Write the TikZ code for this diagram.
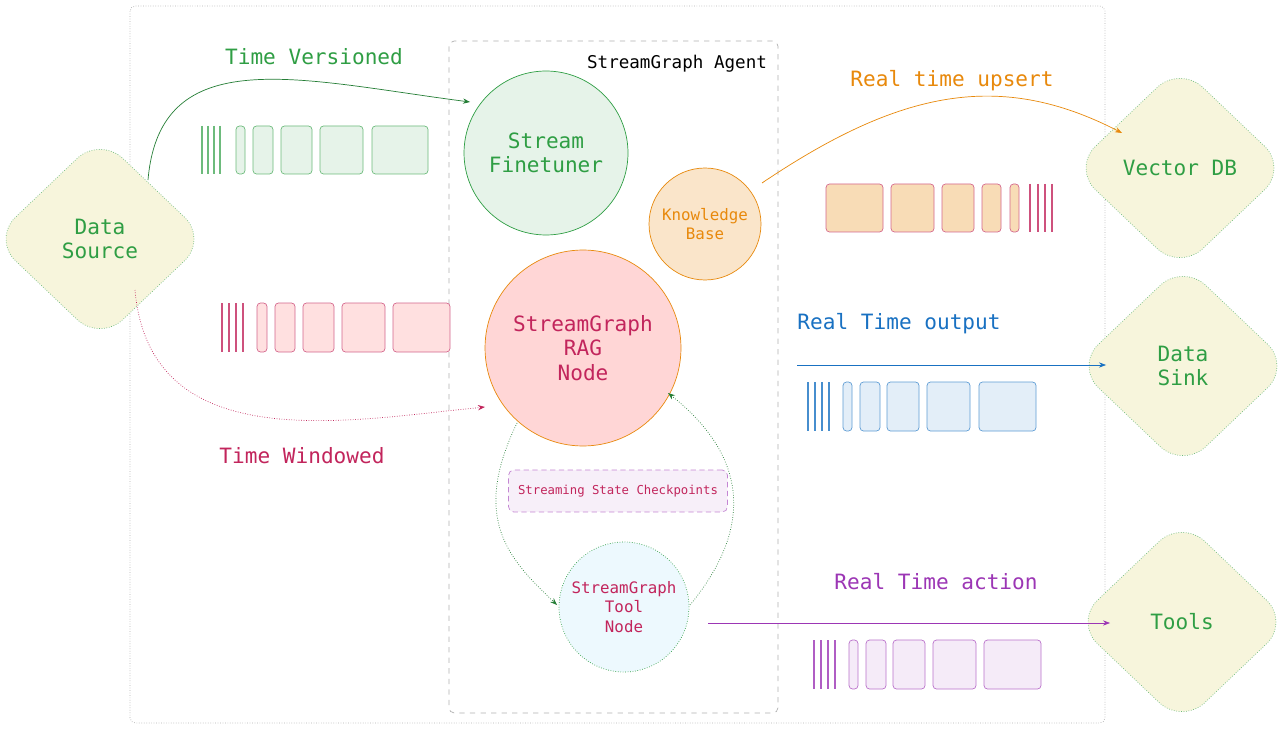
\documentclass[tikz,border=0pt]{standalone}
\usepackage{fontspec}
\setmonofont{DejaVu Sans Mono}
\usetikzlibrary{shapes.geometric,arrows.meta}
\definecolor{cgreen}{HTML}{2F9E44}
\definecolor{cred}{HTML}{C2255C}
\definecolor{corange}{HTML}{E8890C}
\definecolor{cblue}{HTML}{1971C2}
\definecolor{cpurple}{HTML}{9C36B5}
\definecolor{cyel}{HTML}{F7F5DC}
\tikzset{
 x=0.02cm,y=-0.02cm,
 txt/.style={font=\ttfamily\large, align=center},
 dia/.style={diamond, draw=cgreen!70, densely dotted, fill=cyel, rounded corners=18pt, minimum width=4.3cm, minimum height=4.1cm, aspect=1.05, inner sep=0pt, text=cgreen, font=\ttfamily\large, align=center},
 circ/.style={circle, inner sep=0pt, align=center, font=\ttfamily\large},
 pk/.style={rounded corners=2pt, thin},
 arr/.style={-{Stealth[length=4pt]}, thin},
}
\newcommand{\bars}[4]{\foreach \xx in {#1} \draw[#4, semithick] (\xx,#2) -- (\xx,#3);}
\begin{document}
\begin{tikzpicture}
\useasboundingbox (0,0) rectangle (1280,729);
\fill[white] (0,0) rectangle (1280,729);
\draw[gray!60, densely dotted, rounded corners=3pt] (130,6) rectangle (1105,723);
\draw[gray!60, dashed, rounded corners=3pt] (449,41) rectangle (778,713);
\node[font=\ttfamily\normalsize] (ag) at (677,64) {StreamGraph Agent};

\node[dia] (ds) at (100,239) {Data\\Source};
\node[dia] (vdb) at (1180,168) {Vector DB};
\node[dia] (sink) at (1183,366) {Data\\Sink};
\node[dia] (tools) at (1182,622) {Tools};

\node[circ, draw=cgreen, fill=cgreen!12, minimum size=3.28cm, text=cgreen] (sf) at (546,153) {Stream\\Finetuner};
\node[circ, draw=corange, fill=corange!22, minimum size=2.24cm, text=corange, font=\ttfamily\small] (kb) at (705,224) {Knowledge\\Base};
\node[circ, draw=corange, fill=red!16, minimum size=3.92cm, text=cred] (rag) at (583,348) {StreamGraph\\RAG\\Node};
\node[draw=cpurple!60, densely dashed, fill=cpurple!8, rounded corners=3pt, minimum width=4.38cm, minimum height=0.84cm, inner sep=1pt, text=cred, font=\ttfamily\scriptsize] (ck) at (618,491) {Streaming State Checkpoints};
\node[circ, draw=cgreen, densely dotted, fill=cyan!7, minimum size=2.6cm, text=cred, font=\ttfamily\small] (tn) at (624,607) {StreamGraph\\Tool\\Node};

\node[txt, text=cgreen] (l1) at (314,57) {Time Versioned};
\node[txt, text=cred] (l2) at (302,456) {Time Windowed};
\node[txt, text=corange] (l3) at (952,81) {Real time upsert};
\node[txt, text=cblue] (l4) at (899,324) {Real Time output};
\node[txt, text=cpurple] (l5) at (936,582) {Real Time action};

\coordinate (a1s) at (148,180); \coordinate (a1e) at (470,102);
\draw[arr, cgreen!80!black] (a1s) .. controls (160,40) and (300,80) .. (a1e);
\coordinate (a2s) at (135,290); \coordinate (a2e) at (485,407);
\draw[arr, cred, densely dotted] (a2s) .. controls (150,460) and (350,420) .. (a2e);
\coordinate (a3s) at (762,183); \coordinate (a3e) at (1122,133);
\draw[arr, corange] (a3s) .. controls (900,90) and (1000,70) .. (a3e);
\coordinate (a4s) at (797,365); \coordinate (a4e) at (1106,365);
\draw[arr, cblue] (a4s) -- (a4e);
\coordinate (a5s) at (708,623); \coordinate (a5e) at (1110,623);
\draw[arr, cpurple] (a5s) -- (a5e);
\coordinate (r1) at (517,423); \coordinate (t1) at (557,605);
\draw[arr, cgreen!80!black, densely dotted] (r1) .. controls (470,520) and (510,560) .. (t1);
\coordinate (t2) at (690,605); \coordinate (r2) at (668,393);
\draw[arr, cgreen!80!black, densely dotted] (t2) .. controls (760,520) and (740,450) .. (r2);

% packets
\bars{202,208,214,220}{126}{174}{cgreen!70}
\foreach \a/\b in {236/245,253/273,281/312,320/363,372/428}
  \draw[pk, draw=cgreen!70, fill=cgreen!12] (\a,126) rectangle (\b,174);
\bars{222,229,236,243}{303}{352}{cred!80}
\foreach \a/\b in {257/267,275/295,303/334,342/385,393/450}
  \draw[pk, draw=cred!70, fill=red!12] (\a,303) rectangle (\b,352);
\bars{1030,1038,1045,1052}{184}{232}{cred!80}
\foreach \a/\b in {826/883,891/934,942/974,982/1001,1010/1019}
  \draw[pk, draw=cred!70, fill=corange!30] (\a,184) rectangle (\b,232);
\bars{808,815,822,829}{382}{431}{cblue!80}
\foreach \a/\b in {843/852,860/880,887/919,927/970,979/1036}
  \draw[pk, draw=cblue!70, fill=cblue!12] (\a,382) rectangle (\b,431);
\bars{814,821,828,835}{640}{689}{cpurple!80}
\foreach \a/\b in {849/858,866/886,893/925,933/976,984/1041}
  \draw[pk, draw=cpurple!70, fill=cpurple!10] (\a,640) rectangle (\b,689);
\end{tikzpicture}
\end{document}
